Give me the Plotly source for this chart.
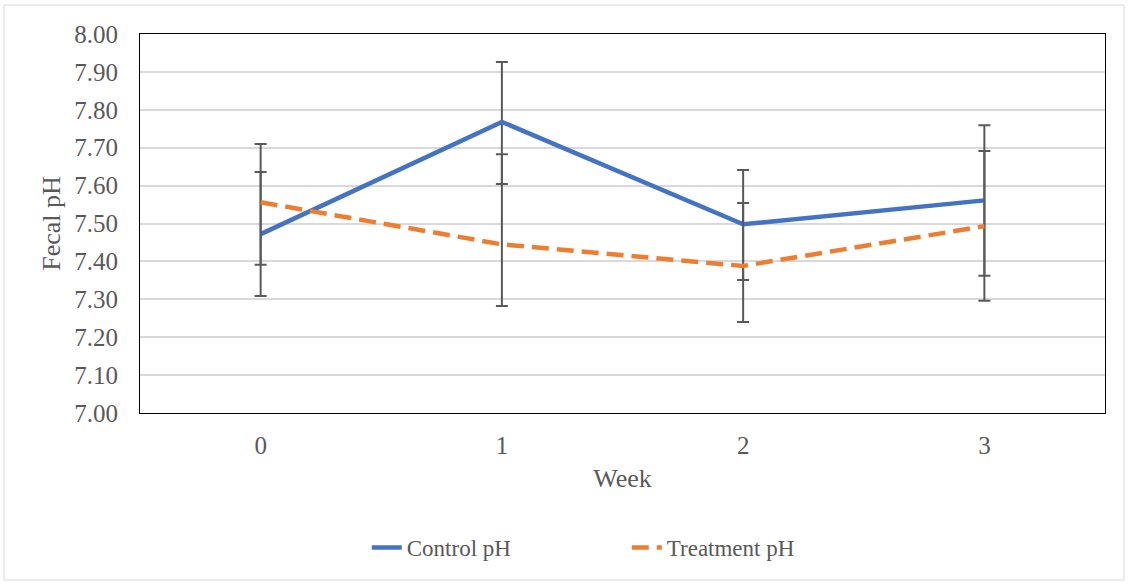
import plotly.graph_objects as go

weeks = ["0", "1", "2", "3"]
control_ph = [7.472, 7.768, 7.498, 7.561]
control_err_plus = [0.164, 0.158, 0.143, 0.198]
control_err_minus = [0.163, 0.164, 0.147, 0.199]
treatment_ph = [7.556, 7.445, 7.388, 7.493]
treatment_err_plus = [0.154, 0.238, 0.166, 0.198]
treatment_err_minus = [0.165, 0.163, 0.148, 0.197]

font_family = "Liberation Serif, Times New Roman, serif"
gray_text = "#595959"

fig = go.Figure()
fig.add_trace(go.Scatter(
    x=weeks, y=control_ph, mode="lines", name="Control pH",
    line=dict(color="#4472C4", width=4.5),
    error_y=dict(type="data", symmetric=False, array=control_err_plus,
                 arrayminus=control_err_minus, color="#595959", thickness=2, width=6),
))
fig.add_trace(go.Scatter(
    x=weeks, y=treatment_ph, mode="lines", name="Treatment pH",
    line=dict(color="#ED7D31", width=4.5, dash="17px,8px"),
    error_y=dict(type="data", symmetric=False, array=treatment_err_plus,
                 arrayminus=treatment_err_minus, color="#595959", thickness=2, width=6),
))

fig.update_layout(
    width=1128, height=584,
    margin=dict(l=140, r=23, t=34, b=171),
    paper_bgcolor="white", plot_bgcolor="white",
    font=dict(family=font_family, size=26, color=gray_text),
    showlegend=True,
    legend=dict(orientation="h", x=0.235, xanchor="left", y=-0.355, yanchor="middle",
                font=dict(size=23, color=gray_text), tracegroupgap=0,
                entrywidth=215, entrywidthmode="pixels"),
    shapes=[dict(type="rect", xref="paper", yref="paper",
                 x0=-0.141, x1=1.0197, y0=-0.4406, y1=1.0765,
                 line=dict(color="#d9d9d9", width=1), fillcolor="rgba(0,0,0,0)", layer="below")],
)
fig.update_xaxes(
    type="category", range=[-0.5, 3.5],
    showline=True, linecolor="black", linewidth=1, mirror=True,
    showgrid=False, ticks="", ticklabelstandoff=10,
    title=dict(text="Week", font=dict(size=26, color=gray_text), standoff=10),
    tickfont=dict(size=25, color=gray_text),
)
fig.update_yaxes(
    range=[7.0, 8.0], dtick=0.1, tickformat=".2f",
    showline=True, linecolor="black", linewidth=1, mirror=True,
    showgrid=True, gridcolor="#d9d9d9", gridwidth=1.5,
    zeroline=False, ticks="", ticklabelstandoff=16,
    title=dict(text="Fecal pH", font=dict(size=26, color=gray_text), standoff=6),
    tickfont=dict(size=25, color=gray_text),
)

fig.write_html("out.html")
